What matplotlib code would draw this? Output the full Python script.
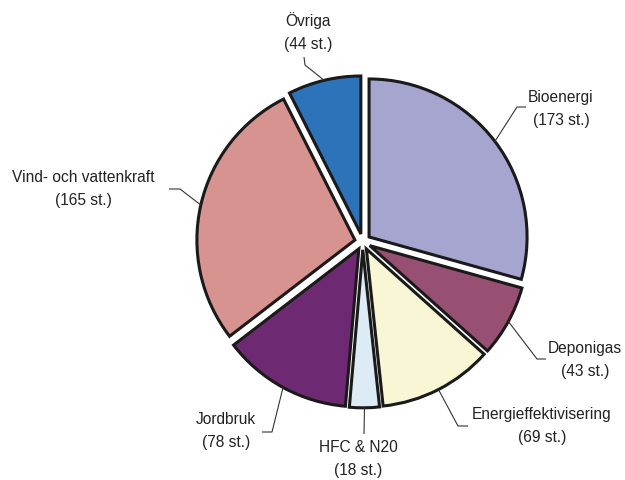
import numpy as np
import matplotlib
matplotlib.use("Agg")
import matplotlib.pyplot as plt

# data
categories = ["Bioenergi", "Deponigas", "Energieffektivisering", "HFC & N20",
              "Jordbruk", "Vind- och vattenkraft", "Övriga"]
counts = [173, 43, 69, 18, 78, 165, 44]
colors = ["#A5A5CF", "#974F72", "#F8F6D4", "#DCEBF5", "#6D2A72", "#D6938F", "#2C73BA"]

# label centres and leader elbows (pixel coords, y from top)
label_pos = [(561, 109), (585, 360), (542, 426), (358, 459), (226, 431), (83, 189), (308, 32)]
elbows = [[(517, 107), (526, 107)],
          [(537, 359), (546, 359)],
          [(458, 426), (468, 426)],
          [(364, 434)],
          [(272, 432), (262, 432)],
          [(180, 189), (169, 189)],
          [(305, 65), (304, 57)]]

W, H = 625, 480
plt.rcParams['font.family'] = ['Liberation Sans', 'DejaVu Sans']

fig = plt.figure(figsize=(W / 100, H / 100), dpi=100)
ax = fig.add_axes([0, 0, 1, 1])

r = 158
cx, cy = 362.7, H - 241.8
# pie explode is in data units here (radius is in pixels)
wedges, _ = ax.pie(counts, colors=colors, startangle=90, counterclock=False,
                   explode=[8] * len(counts), radius=r, center=(cx, cy),
                   wedgeprops=dict(edgecolor='#1a1a1a', linewidth=2.2))

ax.set_xlim(0, W)
ax.set_ylim(0, H)
ax.set_aspect('equal')
ax.axis('off')

for w, name, n, (tx, ty), pts in zip(wedges, categories, counts, label_pos, elbows):
    mid = np.deg2rad((w.theta1 + w.theta2) / 2)
    x0 = w.center[0] + w.r * np.cos(mid)
    y0 = w.center[1] + w.r * np.sin(mid)
    xs = [x0] + [p[0] for p in pts]
    ys = [y0] + [H - p[1] for p in pts]
    ax.plot(xs, ys, color='#333333', lw=0.8, solid_capstyle='butt')
    ax.text(tx, H - ty, f"{name}\n({n} st.)", ha='center', va='center',
            fontsize=11.2, linespacing=1.6, color='#222222')

fig.savefig("out.png", dpi=100)
